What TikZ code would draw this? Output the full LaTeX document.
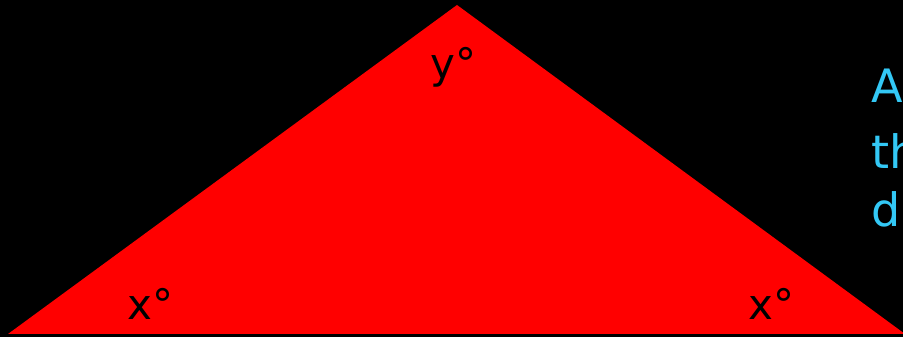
\documentclass[tikz,border=0pt]{standalone}
\usepackage{fontspec}
\setmainfont{DejaVu Sans}
\definecolor{skyc}{RGB}{51,200,245}
\begin{document}
\begin{tikzpicture}[x=1pt,y=1pt,
  anglab/.style={anchor=base west,inner sep=0pt,text=black,font=\fontsize{42}{44}\selectfont},
  sidetxt/.style={anchor=base west,inner sep=0pt,text=skyc,font=\fontsize{46}{48}\selectfont}]
\useasboundingbox (0,0) rectangle (903,337);
\fill[black] (0,0) rectangle (903,337);
\begin{scope}
\clip (0,0) rectangle (903,337);
\coordinate (L) at (8,3);
\coordinate (T) at (457,332);
\coordinate (R) at (905,3);
\fill[red] (L) -- (T) -- (R) -- cycle;
\node[anglab] (ylab) at (430,258) {y°};
\node[anglab] (xl) at (127,17) {x°};
\node[anglab] (xr) at (748,17) {x°};
\node[sidetxt] (t1) at (871,234) {A};
\node[sidetxt] (t2) at (871,168) {th};
\node[sidetxt] (t3) at (871,110) {di};
\end{scope}
\end{tikzpicture}
\end{document}
